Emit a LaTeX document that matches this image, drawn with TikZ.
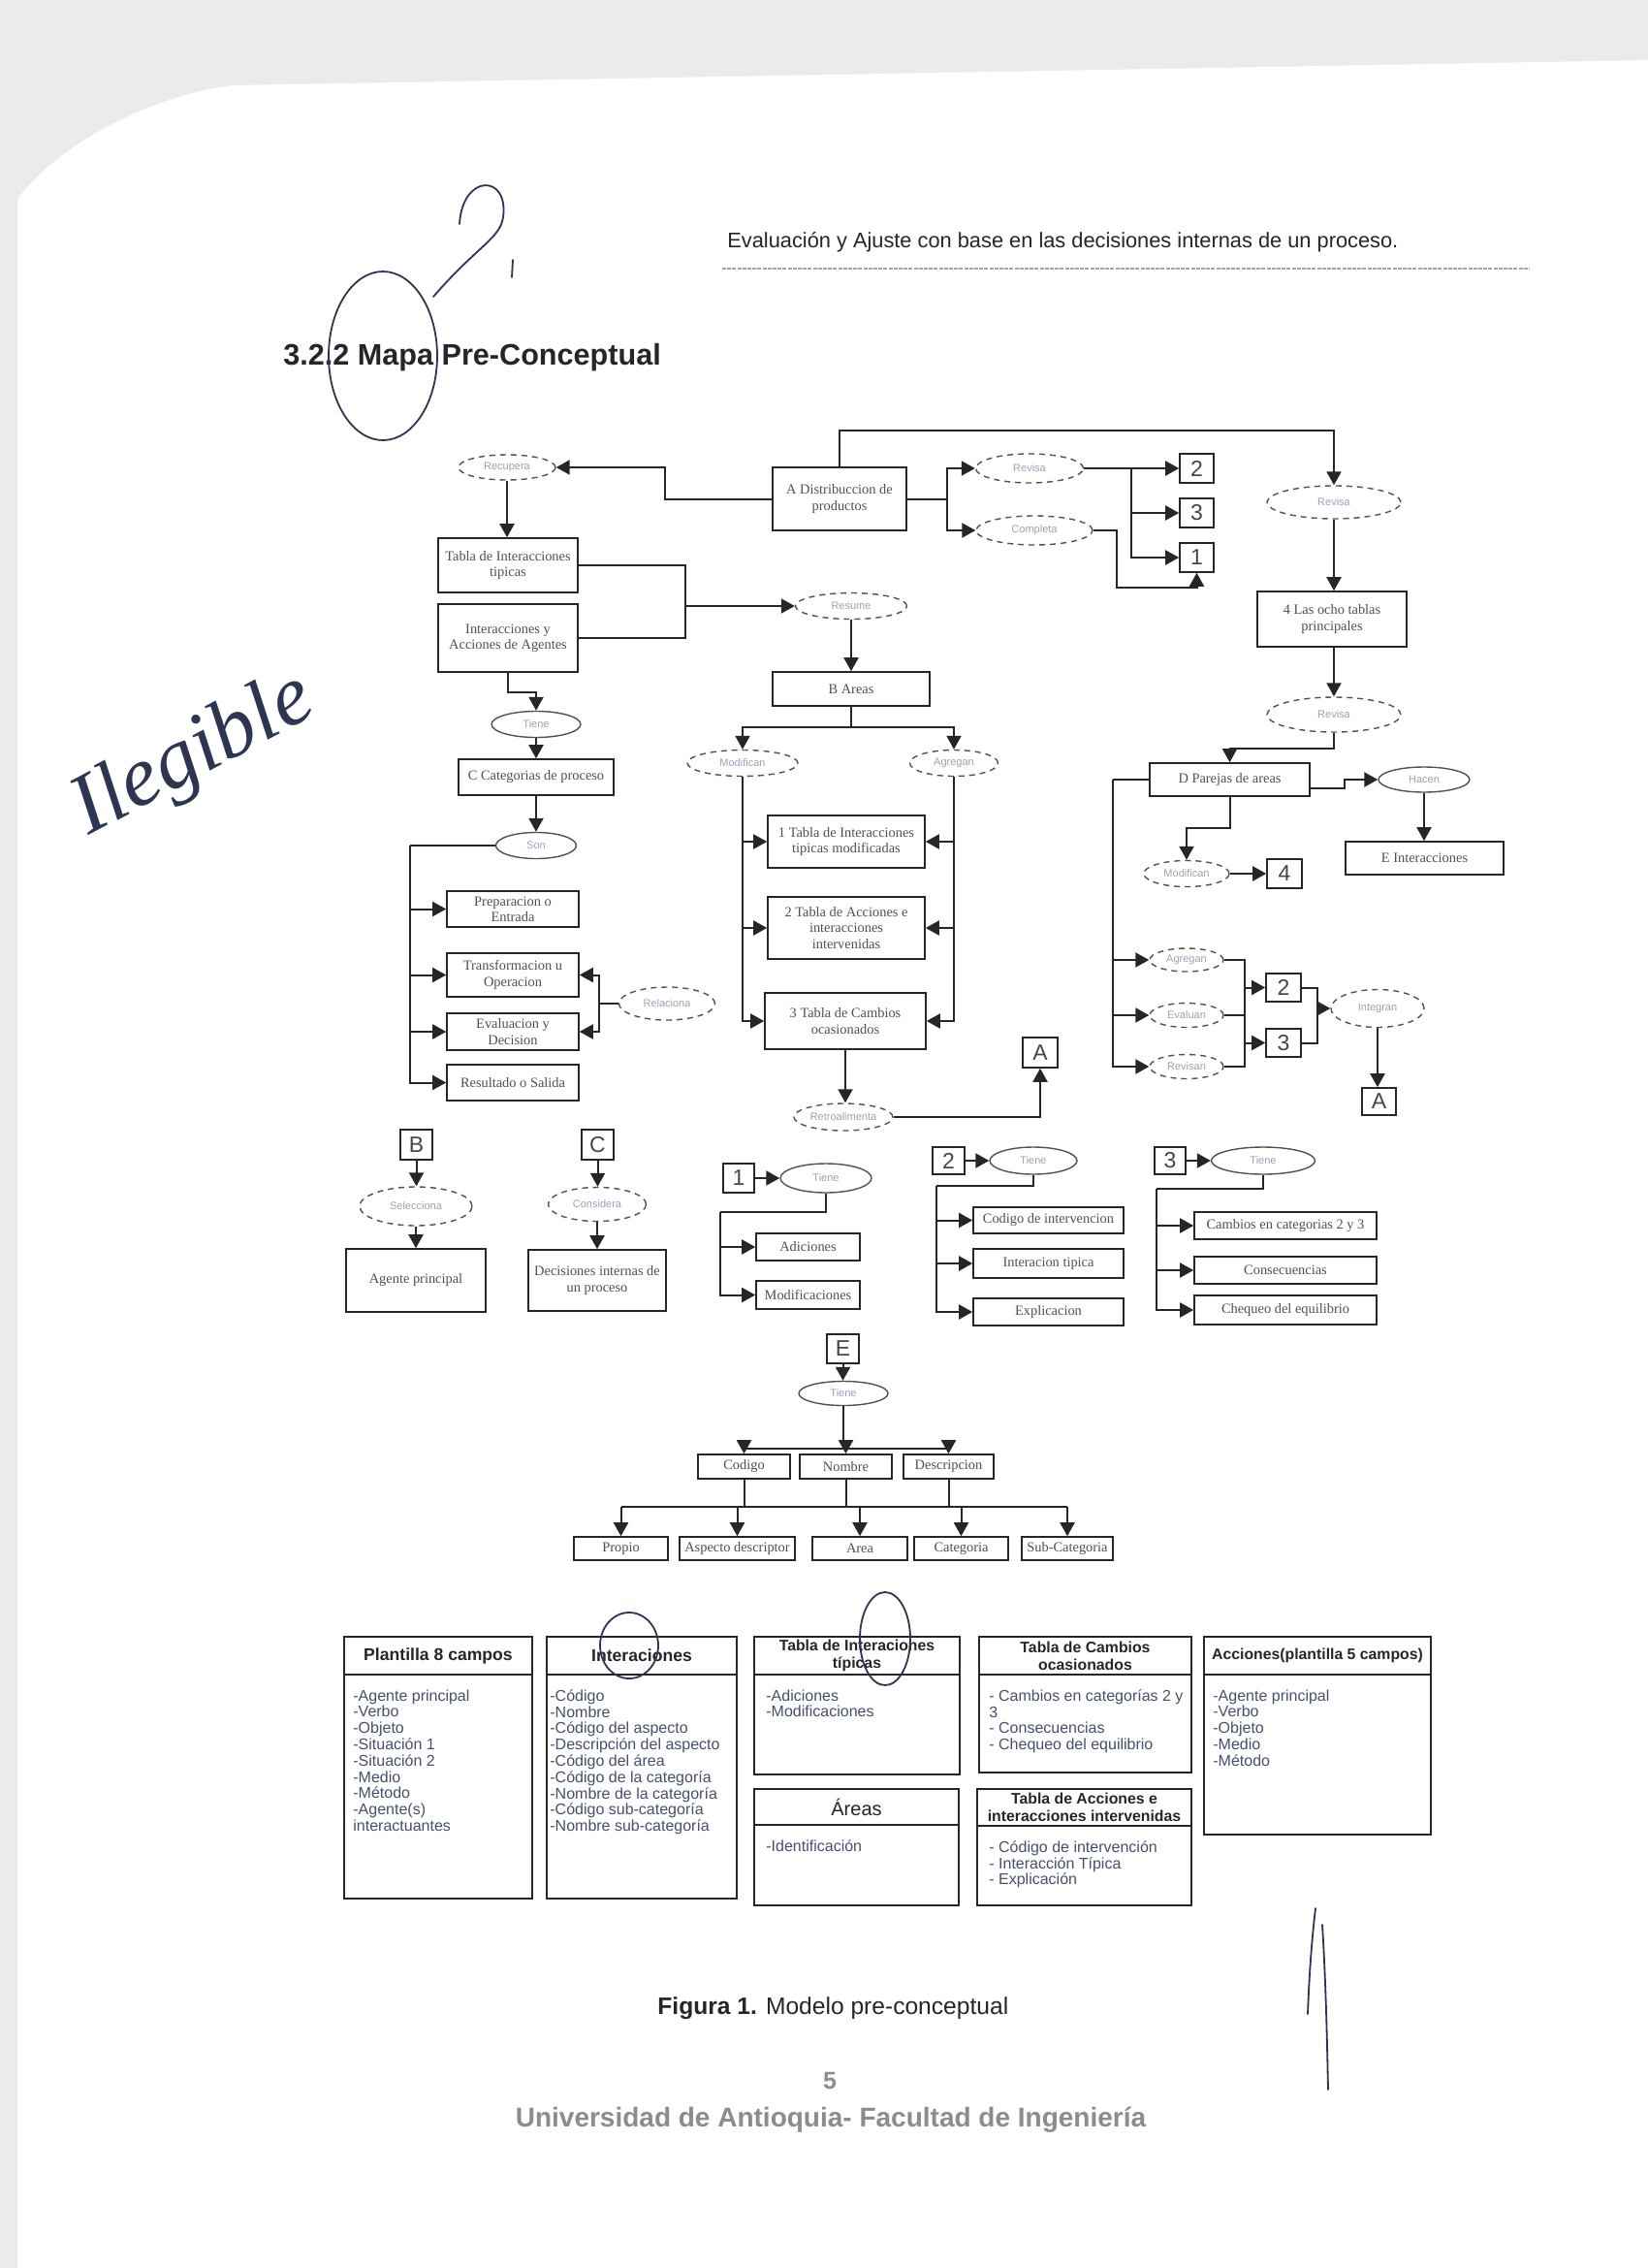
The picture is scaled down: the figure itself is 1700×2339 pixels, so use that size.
\documentclass[tikz,border=0pt]{standalone}
\usepackage{fontspec}
\setmainfont{Liberation Serif}
\setsansfont{Liberation Sans}
\usetikzlibrary{arrows.meta,shapes.geometric}

\definecolor{ink}{HTML}{262626}
\definecolor{boxtxt}{HTML}{505050}
\definecolor{eltxt}{HTML}{9CA2B4}
\definecolor{listtxt}{HTML}{46506A}
\definecolor{penc}{HTML}{2E3552}
\definecolor{pagebg}{HTML}{EBEBEB}
\definecolor{unigray}{HTML}{8C8C8C}

\tikzset{
 ln/.style={draw=ink, line width=1pt},
 arr/.style={ln, -{Triangle[width=7.5pt,length=7pt]}},
 boxs/.style={draw=ink, line width=0.8pt, rectangle, inner sep=0pt, align=center,
   font=\fontsize{7.2}{8.2}\selectfont, text=boxtxt},
 nbox/.style={font=\sffamily\fontsize{11.5}{13}\selectfont, text=ink!85},
 elld/.style={ellipse, draw=ink!80, dash pattern=on 3pt off 2.5pt, line width=0.7pt,
   inner sep=0pt, font=\sffamily\fontsize{5.5}{6.2}\selectfont, text=eltxt},
 ells/.style={elld, solid},
 tbline/.style={draw=ink, line width=1pt},
 thead/.style={align=center, inner sep=0pt, font=\sffamily\bfseries\fontsize{7.9}{9}\selectfont, text=ink},
 tlist/.style={align=left, inner sep=0pt, font=\sffamily\fontsize{8}{8.4}\selectfont, text=listtxt},
 penline/.style={draw=penc, line width=0.9pt, line cap=round},
}

\newcommand\bx[7][]{\node[boxs,minimum width={(#5-#3)*0.5pt},minimum height={(#6-#4)*0.5pt},#1] (#2) at ({(#3+#5)/2},{(#4+#6)/2}) {#7};}
\newcommand\el[7][]{\node[elld,minimum width={#5*0.5pt},minimum height={#6*0.5pt},#1] (#2) at (#3,#4) {#7};}
\newcommand\tabx[9]{%
 \draw[tbline] (#2,#3) rectangle (#4,#5);
 \draw[tbline] (#2,#6) -- (#4,#6);
 \node[thead] (#1h) at ({(#2+#4)/2},{(#3+#6)/2}) {#7};
 \node[tlist, anchor=north west] (#1l) at (#8,{#6+15}) {#9};}

\begin{document}
\begin{tikzpicture}[x=0.5pt,y=-0.5pt]
\useasboundingbox (0,0) rectangle (1700,2339);
\fill[pagebg] (0,0) rectangle (1700,2339);
\fill[white] (18,2339) -- (18,205) .. controls (60,150) and (150,100) .. (240,88) -- (1700,62) -- (1700,2339) -- cycle;

% header
\node[font=\sffamily\fontsize{10.9}{13}\selectfont, text=ink, anchor=base west, inner sep=0pt] (hd) at (750,255) {Evaluación y Ajuste con base en las decisiones internas de un proceso.};
\draw[draw=gray!70, line width=0.6pt, dash pattern=on 2pt off 0.6pt] (745,277) -- (1578,277);
\node[font=\sffamily\bfseries\fontsize{15.3}{18}\selectfont, text=ink, anchor=base west, inner sep=0pt] (ttl) at (292,376) {3.2.2 Mapa Pre-Conceptual};

% ---------- top ----------
\el{rec}{523}{482}{100}{26}{Recupera}
\bx{A}{797}{482}{935}{547}{A Distribuccion de\\productos}
\bx{tip}{452}{555}{596}{611}{Tabla de Interacciones\\tipicas}
\bx{iaa}{452}{623}{596}{693}{Interacciones y\\Acciones de Agentes}
\el{res}{878}{625}{115}{27}{Resume}
\bx{Bar}{797}{693}{959}{728}{B Areas}
\el{rev1}{1062}{483}{111}{30}{Revisa}
\el{comp}{1067}{547}{120}{30}{Completa}
\bx[nbox]{n2}{1217}{468}{1252}{498}{2}
\bx[nbox]{n3}{1217}{514}{1252}{544}{3}
\bx[nbox]{n1}{1217}{560}{1252}{590}{1}
\el{rev2}{1376}{518}{138}{34}{Revisa}
\bx{ocho}{1297}{610}{1451}{667}{4 Las ocho tablas\\principales}
\el{rev3}{1376}{737}{138}{36}{Revisa}
\bx{D}{1186}{787}{1351}{821}{D Parejas de areas}
\el[ells]{hac}{1469}{804}{94}{26}{Hacen}
\bx{E}{1388}{868}{1551}{902}{E Interacciones}
\el{mod2}{1224}{901}{88}{27}{Modifican}
\bx[nbox]{n4}{1307}{886}{1343}{916}{4}
\el{agr2}{1224}{990}{76}{24}{Agregan}
\el{eva}{1224}{1047}{76}{25}{Evaluan}
\el{rvs}{1224}{1100}{76}{25}{Revisan}
\bx[nbox]{n2b}{1306}{1004}{1342}{1033}{2}
\bx[nbox]{n3b}{1306}{1061}{1342}{1090}{3}
\el{intg}{1421}{1040}{96}{39}{Integran}
\bx[nbox]{Ab}{1405}{1122}{1440}{1150}{A}

% ---------- middle ----------
\el[ells]{tie}{553}{747}{92}{27}{Tiene}
\bx{C}{473}{783}{633}{820}{C Categorias de proceso}
\el[ells]{son}{553}{872}{83}{27}{Son}
\bx{prep}{461}{919}{597}{956}{Preparacion o\\Entrada}
\bx{trans}{461}{983}{597}{1028}{Transformacion u\\Operacion}
\bx{evd}{461}{1045}{597}{1083}{Evaluacion y\\Decision}
\bx{resu}{461}{1098}{597}{1135}{Resultado o Salida}
\el{rel}{688}{1035}{99}{34}{Relaciona}
\el{mod}{766}{787}{114}{27}{Modifican}
\el{agr}{984}{787}{91}{27}{Agregan}
\bx{t1}{792}{841}{954}{895}{1 Tabla de Interacciones\\tipicas modificadas}
\bx{t2}{792}{925}{954}{989}{2 Tabla de Acciones e\\interacciones\\intervenidas}
\bx{t3}{789}{1024}{955}{1082}{3 Tabla de Cambios\\ocasionados}
\el{ret}{870}{1152}{102}{28}{Retroalimenta}
\bx[nbox]{Aa}{1055}{1070}{1091}{1101}{A}

% ---------- lower ----------
\bx[nbox]{Bn}{413}{1165}{446}{1196}{B}
\el{sel}{429}{1244}{116}{40}{Selecciona}
\bx{ag}{357}{1288}{501}{1353}{Agente principal}
\bx[nbox]{Cn}{600}{1165}{633}{1196}{C}
\el{con}{616}{1242}{101}{35}{Considera}
\bx{dec}{545}{1289}{687}{1352}{Decisiones internas de\\un proceso}

\bx[nbox]{b1}{746}{1200}{778}{1230}{1}
\el[ells]{tie1}{852}{1215}{94}{30}{Tiene}
\bx{adi}{780}{1272}{887}{1300}{Adiciones}
\bx{modi}{780}{1321}{887}{1350}{Modificaciones}
\bx[nbox]{b2}{962}{1183}{995}{1211}{2}
\el[ells]{tie2}{1066}{1197}{90}{28}{Tiene}
\bx{cod}{1004}{1245}{1159}{1272}{Codigo de intervencion}
\bx{itp}{1004}{1288}{1159}{1318}{Interacion tipica}
\bx{expl}{1004}{1339}{1159}{1367}{Explicacion}
\bx[nbox]{b3}{1191}{1183}{1223}{1211}{3}
\el[ells]{tie3}{1303}{1197}{107}{28}{Tiene}
\bx{cam}{1232}{1250}{1420}{1278}{Cambios en categorias 2 y 3}
\bx{cons}{1232}{1296}{1420}{1324}{Consecuencias}
\bx{cheq}{1232}{1336}{1420}{1366}{Chequeo del equilibrio}

\bx[nbox]{Eb}{853}{1376}{886}{1406}{E}
\el[ells]{tieE}{870}{1437}{92}{25}{Tiene}
\bx{codg}{720}{1500}{815}{1525}{Codigo}
\bx{nom}{825}{1500}{920}{1525}{Nombre}
\bx{desc}{932}{1500}{1025}{1525}{Descripcion}
\bx{prop}{592}{1585}{689}{1609}{Propio}
\bx{asp}{701}{1585}{820}{1609}{Aspecto descriptor}
\bx{area}{838}{1585}{936}{1609}{Area}
\bx{cat}{943}{1585}{1040}{1609}{Categoria}
\bx{sub}{1054}{1585}{1148}{1609}{Sub-Categoria}

% ---------- connectors: top ----------
\draw[arr] (A.west) -- (686,514.5) |- (rec.east);
\draw[arr] (A.north) |- (1376,444) -- (rev2.north);
\draw[arr] (rec.south) -- (rec.south |- tip.north);
\draw[ln] (tip.east) -| (707,658) -- (iaa.east);
\coordinate (jr) at (707,625);
\draw[arr] (jr) -- (res.west);
\draw[arr] (res.south) -- (res.south |- Bar.north);
\coordinate (bj) at (878,750);
\draw[ln] (Bar.south) -- (bj);
\draw[arr] (bj) -| (mod.north);
\draw[arr] (bj) -| (agr.north);
\draw[arr] (mod.south) |- (t3.west);
\draw[arr] (mod.south |- t1.west) -- (t1.west);
\draw[arr] (mod.south |- t2.west) -- (t2.west);
\draw[arr] (agr.south) |- (t3.east);
\draw[arr] (agr.south |- t1.east) -- (t1.east);
\draw[arr] (agr.south |- t2.east) -- (t2.east);
\draw[arr] (t3.south) -- (t3.south |- ret.north);
\draw[arr] (ret.east) -| (Aa.south);

\draw[arr] (iaa.south) -- (524,714) -| (tie.north);
\draw[arr] (tie.south) -- (C.north);
\draw[arr] (C.south) -- (son.north);
\coordinate (sb) at (423,872);
\draw[ln] (son.west) -- (sb);
\draw[arr] (sb) |- (resu.west);
\draw[arr] (sb |- prep.west) -- (prep.west);
\draw[arr] (sb |- trans.west) -- (trans.west);
\draw[arr] (sb |- evd.west) -- (evd.west);
\coordinate (rj) at (618,1035);
\draw[ln] (rel.west) -- (rj);
\draw[arr] (rj) |- (trans.east);
\draw[arr] (rj) |- (evd.east);

% ---------- connectors: right ----------
\coordinate (aj) at (977,514.5);
\draw[ln] (A.east) -- (aj);
\draw[arr] (aj) |- (rev1.west);
\draw[arr] (aj) |- (comp.west);
\coordinate (r1j) at (1167,483);
\draw[arr] (rev1.east) -- (n2.west);
\draw[arr] (r1j) |- (n1.west);
\draw[arr] (r1j |- n3.west) -- (n3.west);
\draw[arr] (comp.east) -| (1152,606) -| (n1.south);
\draw[arr] (rev2.south) -- (rev2.south |- ocho.north);
\draw[arr] (rev2.south |- ocho.south) -- (rev3.north);
\draw[arr] (rev3.south) -- (1376,772) -| (D.north);
\draw[arr] ([yshift=-4.5pt]D.east) -- (1387,813) |- (hac.west);
\draw[arr] (hac.south) -- (hac.south |- E.north);
\draw[arr] (D.south) -- (1268.5,854) -| (mod2.north);
\draw[arr] (mod2.east) -- (n4.west);
\coordinate (db) at (1148,804);
\draw[ln] (D.west) -- (db);
\draw[arr] (db) |- (rvs.west);
\draw[arr] (db |- agr2.west) -- (agr2.west);
\draw[arr] (db |- eva.west) -- (eva.west);
\coordinate (ej) at (1284,1047);
\draw[ln] (agr2.east) -| (ej);
\draw[ln] (rvs.east) -| (ej);
\draw[ln] (eva.east) -- (ej);
\draw[arr] (ej |- n2b.west) -- (n2b.west);
\draw[arr] (ej |- n3b.west) -- (n3b.west);
\coordinate (nj) at (1359,1040);
\draw[ln] (n2b.east) -| (nj);
\draw[ln] (n3b.east) -| (nj);
\draw[arr] (nj) -- (intg.west);
\draw[arr] (intg.south) -- (intg.south |- Ab.north);

% ---------- connectors: lower ----------
\draw[arr] (Bn.south) -- (Bn.south |- sel.north);
\draw[arr] (sel.south) -- (sel.south |- ag.north);
\draw[arr] (Cn.south) -- (Cn.south |- con.north);
\draw[arr] (con.south) -- (con.south |- dec.north);

\draw[arr] (b1.east) -- (tie1.west);
\coordinate (b1b) at (743,1250);
\draw[ln] (tie1.south) |- (b1b);
\draw[arr] (b1b) |- (modi.west);
\draw[arr] (b1b |- adi.west) -- (adi.west);

\draw[arr] (b2.east) -- (tie2.west);
\coordinate (b2b) at (966,1223);
\draw[ln] (tie2.south) |- (b2b);
\draw[arr] (b2b) |- (expl.west);
\draw[arr] (b2b |- cod.west) -- (cod.west);
\draw[arr] (b2b |- itp.west) -- (itp.west);

\draw[arr] (b3.east) -- (tie3.west);
\coordinate (b3b) at (1193,1226);
\draw[ln] (tie3.south) |- (b3b);
\draw[arr] (b3b) |- (cheq.west);
\draw[arr] (b3b |- cam.west) -- (cam.west);
\draw[arr] (b3b |- cons.west) -- (cons.west);

\draw[arr] (Eb.south) -- (Eb.south |- tieE.north);
\coordinate (ej2) at (870,1494);
\draw[ln] (tieE.south) -- (ej2);
\draw[arr] (ej2) -| (codg.north);
\draw[arr] (ej2) -| (desc.north);
\draw[arr] (ej2 -| nom.north) -- (nom.north);
\coordinate (bus) at (870,1554);
\draw[ln] (codg.south) -- (codg.south |- bus);
\draw[ln] (nom.south) -- (nom.south |- bus);
\draw[ln] (desc.south) -- (desc.south |- bus);
\draw[ln] (prop.north |- bus) -- (sub.north |- bus);
\draw[arr] (prop.north |- bus) -- (prop.north);
\draw[arr] (asp.north |- bus) -- (asp.north);
\draw[arr] (area.north |- bus) -- (area.north);
\draw[arr] (cat.north |- bus) -- (cat.north);
\draw[arr] (sub.north |- bus) -- (sub.north);

% ---------- tables ----------
\tabx{ta}{355}{1688}{549}{1958}{1727}{{\fontsize{8.8}{10}\selectfont Plantilla 8 campos}}{364}{-Agente principal\\-Verbo\\-Objeto\\-Situación 1\\-Situación 2\\-Medio\\-Método\\-Agente(s)\\interactuantes}
\tabx{tb}{564}{1688}{760}{1958}{1727}{{\fontsize{8.8}{10}\selectfont Interaciones}}{567}{-Código\\-Nombre\\-Código del aspecto\\-Descripción del aspecto\\-Código del área\\-Código de la categoría\\-Nombre de la categoría\\-Código sub-categoría\\-Nombre sub-categoría}
\tabx{tc}{778}{1688}{990}{1830}{1727}{Tabla de Interaciones\\típicas}{790}{-Adiciones\\-Modificaciones}
\tabx{td}{778}{1845}{989}{1965}{1882}{{\mdseries\fontsize{10}{11}\selectfont Áreas}}{790}{-Identificación}
\tabx{te}{1010}{1688}{1229}{1828}{1727}{Tabla de Cambios\\ocasionados}{1020}{- Cambios en categorías 2 y\\3\\- Consecuencias\\- Chequeo del equilibrio}
\tabx{tf}{1008}{1845}{1229}{1965}{1883}{Tabla de Acciones e\\interacciones intervenidas}{1020}{- Código de intervención\\- Interacción Típica\\- Explicación}
\tabx{tg}{1242}{1688}{1476}{1892}{1727}{Acciones(plantilla 5 campos)}{1251}{-Agente principal\\-Verbo\\-Objeto\\-Medio\\-Método}

% ---------- caption & footer ----------
\node[font=\sffamily\fontsize{12.3}{14}\selectfont, text=ink, anchor=base west, inner sep=0pt] (cap) at (678,2077) {\textbf{Figura 1.} Modelo pre-conceptual};
\node[font=\sffamily\bfseries\fontsize{12.5}{14}\selectfont, text=unigray, inner sep=0pt] (pg) at (856,2146) {5};
\node[font=\sffamily\bfseries\fontsize{14}{16}\selectfont, text=unigray, anchor=base, inner sep=0pt] (uni) at (857,2193) {Universidad de Antioquia- Facultad de Ingeniería};

% ---------- handwritten marks ----------
\draw[penline] (395,367) ellipse [x radius=56, y radius=87];
\draw[penline] (474,231) .. controls (477,179) and (525,179) .. (519,224) .. controls (516,246) and (492,254) .. (447,306);
\draw[penline] (529,268) -- (528,286);
\node[font=\itshape\fontsize{44}{50}\selectfont, text=penc, rotate=28, inner sep=0pt] (ileg) at (200,780) {Ilegible};
\draw[penline] (649,1697) ellipse [x radius=30, y radius=34];
\draw[penline] (913,1690) ellipse [x radius=26, y radius=48];
\draw[penline] (1357,1968) .. controls (1352,2010) and (1350,2050) .. (1349,2077);
\draw[penline] (1364,1985) .. controls (1368,2050) and (1369,2110) .. (1370,2155);
\end{tikzpicture}
\end{document}
